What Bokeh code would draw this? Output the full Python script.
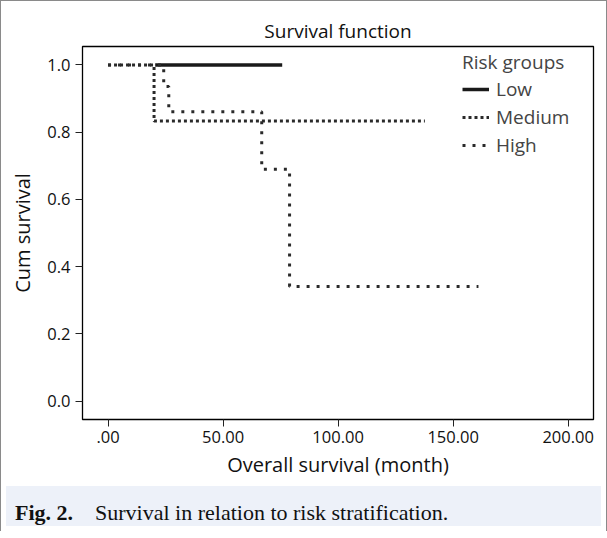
from bokeh.plotting import figure
from bokeh.models import FixedTicker, Legend, LegendItem, Div, Range1d
from bokeh.layouts import column
from bokeh.embed import file_html
from bokeh.resources import INLINE

# ---- data ----
low_time = [20.5, 75.7]
low_surv = [1.0, 1.0]
medium_time = [0.0, 20.0, 137.7]
medium_surv = [1.0, 0.833, 0.833]
high_time = [0.0, 24.2, 26.4, 66.8, 78.9, 161.0]
high_surv = [1.0, 0.936, 0.861, 0.690, 0.341, 0.341]

group_names = ["Low", "Medium", "High"]
x_ticks = [0, 50, 100, 150, 200]
x_tick_labels = [".00", "50.00", "100.00", "150.00", "200.00"]
y_ticks = [0.0, 0.2, 0.4, 0.6, 0.8, 1.0]
y_tick_labels = ["0.0", "0.2", "0.4", "0.6", "0.8", "1.0"]

FONT = "Open Sans"

p = figure(width=595, height=480, output_backend="svg", toolbar_location=None,
           x_range=Range1d(-11.1, 211), y_range=Range1d(-0.055, 1.055),
           min_border_left=81, min_border_right=3, min_border_top=45, min_border_bottom=62,
           title="Survival function")
p.title.align = "center"
p.title.text_font = FONT
p.title.text_font_size = "19px"
p.title.text_font_style = "normal"
p.title.text_color = "#111111"
p.title.standoff = 5

p.outline_line_color = "black"
p.outline_line_width = 1.3
p.xgrid.visible = False
p.ygrid.visible = False
p.background_fill_color = "white"
p.border_fill_color = "white"

for ax in (p.xaxis[0], p.yaxis[0]):
    ax.major_tick_out = 7
    ax.major_tick_in = 0
    ax.minor_tick_line_color = None
    ax.axis_line_color = None
    ax.major_tick_line_color = "#222222"
    ax.major_label_text_font = FONT
    ax.major_label_text_font_size = "16.5px"
    ax.major_label_text_color = "#111111"
    ax.axis_label_text_font = FONT
    ax.axis_label_text_font_size = "20px"
    ax.axis_label_text_font_style = "normal"
    ax.axis_label_text_color = "#111111"

p.xaxis.ticker = FixedTicker(ticks=x_ticks)
p.xaxis.major_label_overrides = {t: l for t, l in zip(x_ticks, x_tick_labels)}
p.yaxis.ticker = FixedTicker(ticks=y_ticks)
p.yaxis.major_label_overrides = {t: l for t, l in zip(y_ticks, y_tick_labels)}
p.xaxis.axis_label = "Overall survival (month)"
p.yaxis.axis_label = "Cum survival"
p.xaxis.major_label_standoff = 4
p.xaxis.axis_label_standoff = 5
p.yaxis.major_label_standoff = 5
p.yaxis.axis_label_standoff = 8

r_low = p.step(low_time, low_surv, mode="after", line_color="#1a1a1a", line_width=3.5)
r_med = p.step(medium_time, medium_surv, mode="after", line_color="#2a2a2a",
               line_width=3, line_dash="3 3")
r_high = p.step(high_time, high_surv, mode="after", line_color="#2a2a2a",
                line_width=3, line_dash="3 7")

legend = Legend(items=[LegendItem(label=group_names[0], renderers=[r_low]),
                       LegendItem(label=group_names[1], renderers=[r_med]),
                       LegendItem(label=group_names[2], renderers=[r_high])],
                location="top_right", title="Risk groups")
legend.title_text_font = FONT
legend.title_text_font_size = "19px"
legend.title_text_font_style = "normal"
legend.title_standoff = 1
legend.label_text_font = FONT
legend.label_text_font_size = "19px"
legend.label_height = 20
legend.spacing = 2
legend.glyph_width = 27
legend.glyph_height = 20
legend.label_standoff = 7
legend.label_width = 94
legend.padding = 0
legend.margin = 3
legend.border_line_color = None
legend.background_fill_alpha = 0
p.add_layout(legend)

caption = Div(text='<b>Fig. 2.</b>&nbsp;&nbsp;&nbsp;&nbsp;Survival in relation to risk stratification.',
              width=595, height=40,
              styles={"background-color": "#edf1f9", "font-family": "Liberation Serif",
                      "font-size": "22px", "line-height": "25px", "padding-left": "9px",
                      "padding-top": "14px", "color": "#111111", "box-sizing": "border-box"})

layout = column(p, caption, styles={"border": "1px solid #8a8a8a", "border-bottom": "none"})

open("out.html", "w").write(file_html(layout, INLINE))
